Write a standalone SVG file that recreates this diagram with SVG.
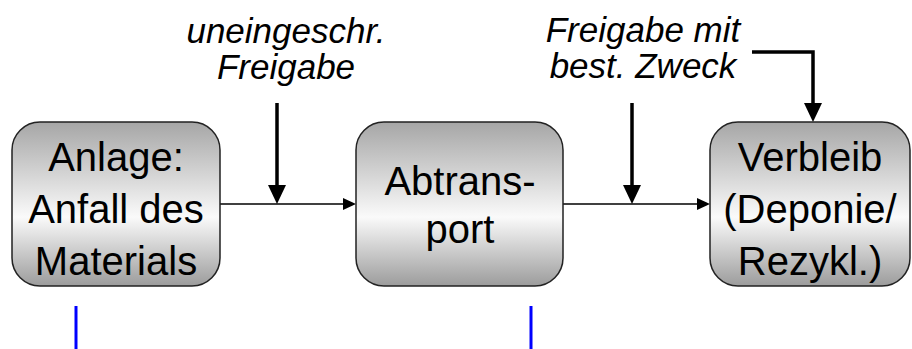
<svg xmlns="http://www.w3.org/2000/svg" width="912" height="349" viewBox="0 0 912 349">
<style>
.box{stroke:#222;stroke-width:1.5;fill:url(#g)}
.bt{font-family:"Liberation Sans",Arial,sans-serif;font-size:40px;fill:#000;text-anchor:middle}
.lt{font-family:"Liberation Sans",Arial,sans-serif;font-size:35px;font-style:italic;fill:#000;text-anchor:middle}
.thin{stroke:#000;stroke-width:1.5;fill:none}
.thick{stroke:#000;stroke-width:3.5;fill:none}
.ah{fill:#000}
.blue{stroke:#0000ff;stroke-width:3}
</style>
<defs>
<linearGradient id="g" x1="0" y1="0" x2="0" y2="1">
<stop offset="0" stop-color="#a6a6a6"/>
<stop offset="0.58" stop-color="#fafafa"/>
<stop offset="1" stop-color="#9c9c9c"/>
</linearGradient>
</defs>
<g id="connectors">
<line class="thin" x1="220" y1="204" x2="344" y2="204"/>
<polygon class="ah" points="356,204 343,198 343,210"/>
<line class="thin" x1="563" y1="204" x2="698" y2="204"/>
<polygon class="ah" points="710,204 697,198 697,210"/>
<line class="thick" x1="277" y1="103" x2="277" y2="187"/>
<polygon class="ah" points="277,204 268,185 286,185"/>
<line class="thick" x1="632" y1="103" x2="632" y2="187"/>
<polygon class="ah" points="632,204 623,185 641,185"/>
<polyline class="thick" points="752,52 813,52 813,105"/>
<polygon class="ah" points="813,122 804,103 822,103"/>
</g>
<g id="label-uneingeschr">
<text class="lt" x="286" y="43">uneingeschr.</text>
<text class="lt" x="286" y="79">Freigabe</text>
</g>
<g id="label-freigabe-mit">
<text class="lt" x="643" y="42">Freigabe mit</text>
<text class="lt" x="643" y="78">best. Zweck</text>
</g>
<g id="node-anlage">
<rect class="box" x="12" y="122" width="208" height="164" rx="28" ry="28"/>
<text class="bt" x="116" y="171">Anlage:</text>
<text class="bt" x="116" y="223">Anfall des</text>
<text class="bt" x="116" y="275">Materials</text>
</g>
<g id="node-abtransport">
<rect class="box" x="356" y="122" width="207" height="164" rx="28" ry="28"/>
<text class="bt" x="460" y="195">Abtrans-</text>
<text class="bt" x="460" y="243">port</text>
</g>
<g id="node-verbleib">
<rect class="box" x="710" y="122" width="200" height="164" rx="28" ry="28"/>
<text class="bt" x="810" y="171">Verbleib</text>
<text class="bt" x="810" y="223">(Deponie/</text>
<text class="bt" x="810" y="275">Rezykl.)</text>
</g>
<g id="markers">
<line class="blue" x1="76" y1="306" x2="76" y2="349"/>
<line class="blue" x1="531" y1="306" x2="531" y2="349"/>
</g>
</svg>
